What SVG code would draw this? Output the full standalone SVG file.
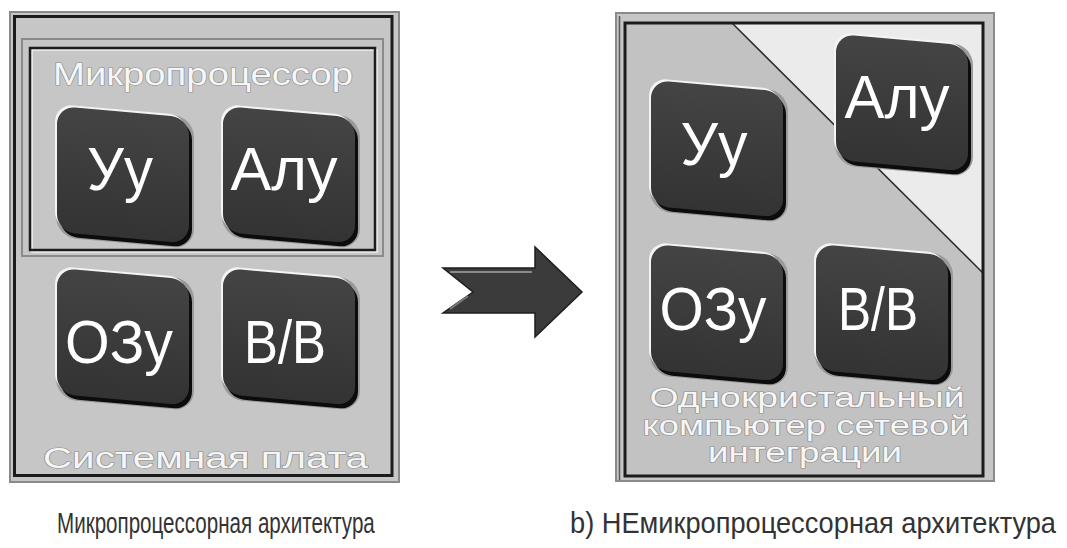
<svg xmlns="http://www.w3.org/2000/svg" xmlns:xlink="http://www.w3.org/1999/xlink" width="1067" height="548" viewBox="0 0 1067 548">
  <style>
    .frame-out { fill: #c6c6c6; stroke: #8a8a8a; stroke-width: 2; }
    .frame-in { fill: none; stroke: #1c1c1c; stroke-width: 3; }
    .box-out { fill: none; stroke: #8a8a8a; stroke-width: 2; }
    .box-in { fill: none; stroke: #1c1c1c; stroke-width: 2.5; }
    .box-hl { fill: none; stroke: #f2f2f2; stroke-width: 1.5; }
    .btn-label { fill: #ffffff; font-family: "Liberation Sans", Arial, sans-serif; font-size: 62px; text-anchor: middle; }
    .emboss { fill: #f6f6f6; stroke: #8e8e8e; stroke-width: 1.2; paint-order: stroke; font-family: "Liberation Sans", Arial, sans-serif; text-anchor: middle; }
    .caption { fill: #333333; font-family: "Liberation Sans", Arial, sans-serif; font-size: 30px; }
  </style>
  <defs>
    <linearGradient id="face" x1="0" y1="0" x2="0" y2="1">
      <stop offset="0" stop-color="#444444"/>
      <stop offset="1" stop-color="#333333"/>
    </linearGradient>
    <!-- raised key: dark rim bottom-right, light rim top-left, face on top -->
    <g id="btn">
      <rect x="-1" y="-1" width="138" height="132" rx="20" fill="#9a9a9a"/>
      <rect x="3" y="4" width="132" height="126" rx="18" fill="#0c0c0c"/>
      <rect x="-2" y="-2" width="132" height="126" rx="18" fill="#f4f4f4"/>
      <rect x="0" y="0" width="132" height="126" rx="18" fill="url(#face)"/>
    </g>
  </defs>

  <rect width="1067" height="548" fill="#ffffff"/>

  <!-- System board -->
  <g id="board">
    <rect class="frame-out" x="10" y="12" width="389" height="470"/>
    <rect class="frame-in" x="14.5" y="16.5" width="377.5" height="459"/>
    <text class="emboss" x="205.5" y="468" font-size="29" textLength="325" lengthAdjust="spacingAndGlyphs">Системная плата</text>
  </g>

  <!-- Microprocessor block -->
  <g id="cpu">
    <rect class="box-out" x="22" y="39" width="361" height="217"/>
    <rect class="box-hl" x="32" y="50" width="345" height="202"/>
    <rect class="box-in" x="30" y="48" width="345" height="202"/>
    <text class="emboss" x="203" y="85" font-size="32" textLength="300" lengthAdjust="spacingAndGlyphs">Микропроцессор</text>
  </g>

  <g id="cu-a">
    <use xlink:href="#btn" transform="translate(57,106) skewY(5)"/>
    <text class="btn-label" x="120" y="190" textLength="66" lengthAdjust="spacingAndGlyphs">Уу</text>
  </g>
  <g id="alu-a">
    <use xlink:href="#btn" transform="translate(223,106) skewY(5)"/>
    <text class="btn-label" x="284" y="190" textLength="107" lengthAdjust="spacingAndGlyphs">Алу</text>
  </g>
  <g id="ram-a">
    <use xlink:href="#btn" transform="translate(57,268) skewY(5)"/>
    <text class="btn-label" x="119" y="363" textLength="108" lengthAdjust="spacingAndGlyphs">ОЗу</text>
  </g>
  <g id="io-a">
    <use xlink:href="#btn" transform="translate(223,268) skewY(5)"/>
    <text class="btn-label" x="285" y="363" textLength="82" lengthAdjust="spacingAndGlyphs">В/В</text>
  </g>

  <!-- Transition arrow -->
  <g id="arrow">
    <polygon points="443,268 535,268 535,247 582,292 535,337 535,313 443,313 473,292" fill="#3b3b3b" stroke="#1e1e1e" stroke-width="1.5" stroke-linejoin="miter"/>
    <polyline points="450,272 532,272" fill="none" stroke="#8a8a8a" stroke-width="2"/>
    <polyline points="468,296 450,309" fill="none" stroke="#7a7a7a" stroke-width="2"/>
  </g>

  <!-- Single-chip network computer -->
  <g id="soc">
    <rect class="frame-out" x="616" y="13" width="378" height="468"/>
    <rect x="625" y="23" width="358" height="453" fill="#c2c2c2"/>
    <polygon points="732,23 983,23 983,273" fill="#ebebeb"/>
    <line x1="732" y1="23" x2="983" y2="273" stroke="#2a2a2a" stroke-width="1.5"/>
    <rect class="frame-in" x="625" y="23" width="358" height="453"/>
    <line x1="619.5" y1="16" x2="619.5" y2="480" stroke="#5a5a5a" stroke-width="1.5"/>
    <text class="emboss" x="807" y="407" font-size="27" textLength="315" lengthAdjust="spacingAndGlyphs">Однокристальный</text>
    <text class="emboss" x="806" y="435" font-size="27" textLength="327" lengthAdjust="spacingAndGlyphs">компьютер сетевой</text>
    <text class="emboss" x="805" y="462" font-size="27" textLength="194" lengthAdjust="spacingAndGlyphs">интеграции</text>
  </g>

  <g id="alu-b">
    <use xlink:href="#btn" transform="translate(836,34) skewY(5)"/>
    <text class="btn-label" x="897" y="118" textLength="105" lengthAdjust="spacingAndGlyphs">Алу</text>
  </g>
  <g id="cu-b">
    <use xlink:href="#btn" transform="translate(651,80) skewY(5)"/>
    <text class="btn-label" x="714" y="165" textLength="67" lengthAdjust="spacingAndGlyphs">Уу</text>
  </g>
  <g id="ram-b">
    <use xlink:href="#btn" transform="translate(651,244) skewY(5)"/>
    <text class="btn-label" x="713" y="330" textLength="107" lengthAdjust="spacingAndGlyphs">ОЗу</text>
  </g>
  <g id="io-b">
    <use xlink:href="#btn" transform="translate(816,244) skewY(5)"/>
    <text class="btn-label" x="878" y="330" textLength="80" lengthAdjust="spacingAndGlyphs">В/В</text>
  </g>

  <!-- Captions (narrow face: horizontally scaled) -->
  <g id="captions">
    <text class="caption" transform="translate(57,533) scale(0.7,1)" x="0" y="0" textLength="454" lengthAdjust="spacingAndGlyphs">Микропроцессорная архитектура</text>
    <text class="caption" transform="translate(570,533) scale(0.9,1)" x="0" y="0" textLength="540" lengthAdjust="spacingAndGlyphs">b) НЕмикропроцессорная архитектура</text>
  </g>
</svg>
